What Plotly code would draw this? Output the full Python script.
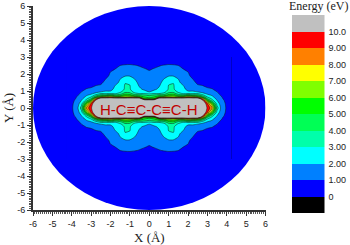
import plotly.graph_objects as go

X_GRID = [0, .25, .5, .75, 1, 1.25, 1.5, 1.75, 2, 2.25, 2.5, 2.75, 3, 3.25, 3.5, 3.75, 4, 4.25]
Y_GRID = [0, .25, .45, .55, .65, .75, .85, .95, 1.1, 1.3, 1.5, 1.7, 1.9, 2.1, 2.3, 2.5, 2.7, 3.0]
# Energy (eV), one list per X_GRID column, read from the upper right quadrant
ENERGY_BY_X = [
    [12, 12, 12, 5.5, 4.6, 3.8, 2.8, 2, 1.85, 1.75, 1.6, 1.45, 1.3, 1.12, .9, .65, .4, .2],
    [12, 12, 12, 6, 5, 4.2, 3, 2.2, 1.9, 1.8, 1.7, 1.55, 1.38, 1.25, 1.05, .75, .45, .2],
    [12, 12, 12, 12, 6, 4.5, 3, 2.5, 2.1, 1.95, 1.85, 1.7, 1.5, 1.35, 1.15, .95, .55, .25],
    [12, 12, 12, 12, 6.5, 4.5, 3.3, 2.6, 2.3, 2.25, 2.15, 2, 1.65, 1.45, 1.25, 1.05, .6, .3],
    [12, 12, 12, 12, 7, 5.5, 4.4, 3.6, 3.1, 3.05, 2.85, 2.3, 1.95, 1.6, 1.3, 1.12, .7, .3],
    [12, 12, 12, 12, 6.5, 5.8, 4.5, 3.7, 3.15, 3.1, 2.95, 2.3, 1.95, 1.6, 1.3, 1.1, .65, .3],
    [12, 12, 12, 12, 6.5, 4.6, 3.4, 2.8, 2.35, 2.25, 2.15, 2, 1.6, 1.38, 1.2, 1, .55, .25],
    [12, 12, 12, 12, 6.5, 4.5, 2.9, 2.4, 2.2, 2.05, 1.75, 1.55, 1.4, 1.22, 1, .7, .4, .2],
    [12, 12, 12, 12, 7.5, 5, 3, 2.1, 1.8, 1.6, 1.45, 1.3, 1.15, 1.03, .75, .5, .3, .15],
    [12, 12, 12, 12, 7, 4.5, 3, 2.1, 1.75, 1.45, 1.2, 1, .75, .55, .4, .3, .2, .1],
    [12, 12, 12, 12, 6.5, 4.5, 3, 2, 1.5, 1.1, .85, .6, .45, .35, .25, .2, .1, .1],
    [12, 12, 10.5, 8, 5, 3.4, 2.3, 1.7, 1.35, 1.03, .75, .55, .4, .3, .2, .15, .1, .1],
    [9.8, 9, 5.5, 4, 3, 2.3, 1.8, 1.5, 1.15, .85, .6, .4, .3, .2, .15, .1, .1, .1],
    [8.2, 6, 3.3, 2.7, 2.2, 1.9, 1.6, 1.4, 1.05, .75, .5, .35, .25, .2, .1, .1, .1, .1],
    [3.5, 2.6, 2, 1.7, 1.5, 1.3, 1.15, 1, .75, .5, .3, .2, .15, .1, .1, .1, .1, .1],
    [1.4, 1.35, 1.25, 1.1, 1, .85, .7, .6, .4, .3, .2, .1, .1, .1, .1, .1, .1, .1],
    [.9, .85, .7, .6, .5, .4, .35, .3, .2, .15, .1, .1, .1, .1, .1, .1, .1, .1],
    [.4, .35, .3, .25, .2, .15, .1, .1, .1, .1, .1, .1, .1, .1, .1, .1, .1, .1],
]
DOMAIN_RADIUS = 6
BAND_VALUES = [-.5, .5, 1.5, 2.5, 3.5, 4.5, 5.5, 6.5, 7.5, 8.5, 9.5, 10.5]
BAND_COLORS = ["#000000", "#0000ff", "#0080ff", "#00ffff", "#00ffaa", "#00ff55",
               "#00ff00", "#80ff00", "#ffff00", "#ff8000", "#ff0000", "#c0c0c0"]
LEGEND_TICKS = [0, 1, 2, 3, 4, 5, 6, 7, 8, 9, 10]
LEGEND_LABELS = ["0", "1.00", "2.00", "3.00", "4.00", "5.00", "6.00", "7.00", "8.00", "9.00", "10.0"]
AXIS_TICKS = list(range(-6, 7))
MOLECULE = "H-C\u2261C-C\u2261C-H"

xs = [-v for v in X_GRID[:0:-1]] + X_GRID
ys = [-v for v in Y_GRID[:0:-1]] + Y_GRID
rows = []
for j in range(len(Y_GRID)):
    half = [col[j] for col in ENERGY_BY_X]
    rows.append(half[:0:-1] + half)
z = rows[:0:-1] + rows

n = len(BAND_COLORS)
scale = []
for i, c in enumerate(BAND_COLORS):
    scale += [[i / n, c], [(i + 1) / n, c]]

fig = go.Figure()
fig.add_trace(go.Contour(
    x=xs, y=ys, z=z, zmin=-1, zmax=11, colorscale=scale, showscale=False, hoverinfo="skip",
    contours=dict(start=0, end=10, size=1, coloring="fill", showlines=True),
    line=dict(color="#111111", width=0.5, smoothing=0.6),
))
fig.add_trace(go.Heatmap(
    x=[0], y=BAND_VALUES, z=[[v] for v in BAND_VALUES], zmin=-1, zmax=11, colorscale=scale,
    showscale=False, xaxis="x2", yaxis="y2", hoverinfo="skip",
))
fig.add_shape(type="circle", xref="x", yref="y", x0=-DOMAIN_RADIUS, x1=DOMAIN_RADIUS,
              y0=-DOMAIN_RADIUS, y1=DOMAIN_RADIUS, fillcolor="#0000ff", line_width=0, layer="below")

axis = dict(range=[-DOMAIN_RADIUS, DOMAIN_RADIUS], tickmode="array", tickvals=AXIS_TICKS,
            ticktext=[str(v) for v in AXIS_TICKS], ticks="outside", ticklen=4, tickwidth=1,
            tickcolor="#333", showline=True, linecolor="#333", linewidth=2, showgrid=False,
            zeroline=False, automargin=False, tickfont=dict(family="Liberation Sans", size=9, color="#222"),
            minor=dict(dtick=.1, tick0=0, ticks="outside", ticklen=2, tickwidth=1, tickcolor="#555", showgrid=False))
fig.update_layout(
    width=350, height=245, margin=dict(l=0, r=0, t=0, b=0), paper_bgcolor="white", plot_bgcolor="white",
    xaxis=dict(axis, domain=[33 / 350, 265.5 / 350], anchor="y"),
    yaxis=dict(axis, domain=[35 / 245, 239 / 245], anchor="x"),
    xaxis2=dict(domain=[292 / 350, 324.5 / 350], anchor="y2", visible=False, automargin=False),
    yaxis2=dict(domain=[32 / 245, 230 / 245], anchor="x2", side="right", range=[-1, 11], automargin=False,
                tickmode="array", tickvals=LEGEND_TICKS, ticktext=LEGEND_LABELS, ticks="",
                ticklabelstandoff=3, showline=False, showgrid=False, zeroline=False,
                tickfont=dict(family="Liberation Sans", size=9, color="#222")),
    showlegend=False,
    annotations=[
        dict(text=MOLECULE, x=0, y=-.1, xref="x", yref="y", showarrow=False,
             font=dict(family="Liberation Sans", size=15, color="#c00000")),
        dict(text="X (\u00c5)", x=149 / 350, y=8 / 245, xref="paper", yref="paper", showarrow=False,
             xanchor="center", yanchor="middle",
             font=dict(family="Liberation Serif", size=13, color="#222")),
        dict(text="Y (\u00c5)", x=9 / 350, y=137 / 245, xref="paper", yref="paper", showarrow=False, textangle=-90,
             xanchor="center", yanchor="middle",
             font=dict(family="Liberation Serif", size=13, color="#222")),
        dict(text="Energy (eV)", x=318 / 350, y=239 / 245, xref="paper", yref="paper", showarrow=False,
             xanchor="center", yanchor="middle",
             font=dict(family="Liberation Serif", size=12, color="#222")),
    ],
)
fig.write_html("out.html", config=dict(displayModeBar=False), post_script="document.body.style.margin='0';")
